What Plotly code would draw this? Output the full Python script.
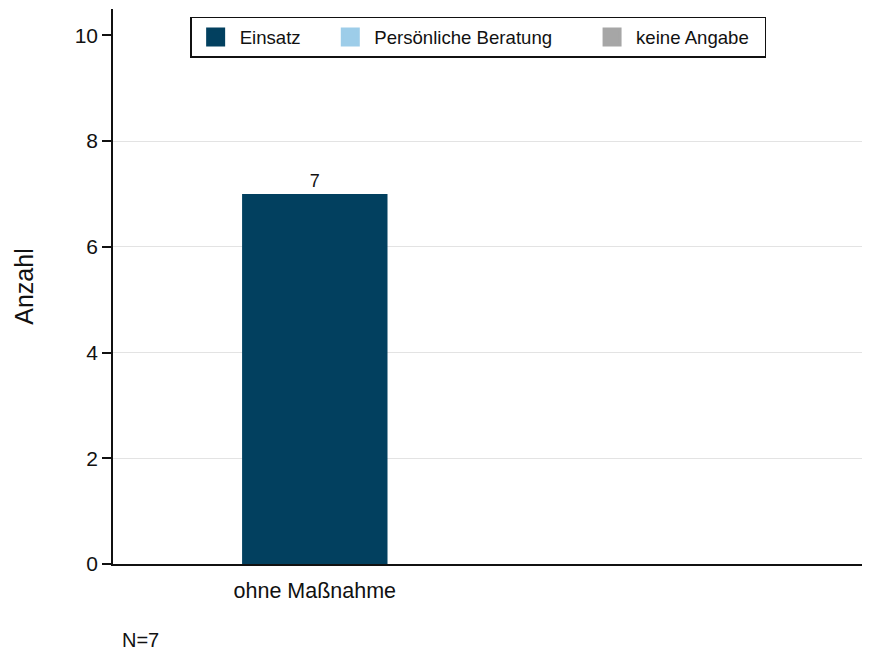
import plotly.graph_objects as go

# ---- data ----
categories = ["ohne Maßnahme"]
series_names = ["Einsatz", "Persönliche Beratung", "keine Angabe"]
series_colors = ["#02405f", "#9dcde9", "#a6a6a6"]
einsatz_values = [7]
beratung_values = [None]
keine_angabe_values = [None]
y_ticks = [0, 2, 4, 6, 8, 10]
grid_ticks = [2, 4, 6, 8]
n_total = 7

FONT = "Liberation Sans, Arial, sans-serif"
NB = "\u00a0"

fig = go.Figure()

series_values = [einsatz_values, beratung_values, keine_angabe_values]
legend_pad = [NB * 4, NB * 6, NB * 2]
for name, color, vals, pad in zip(series_names, series_colors, series_values, legend_pad):
    fig.add_trace(go.Bar(
        x=categories, y=vals, name=name, marker_color=color,
        marker_line_width=0, width=0.8, showlegend=False,
        text=[str(v) if v is not None else "" for v in vals],
        textposition="outside", textfont=dict(size=18, color="#111111", family=FONT),
        cliponaxis=False,
    ))
    # legend proxy (larger square symbol)
    fig.add_trace(go.Scatter(
        x=[None], y=[None], mode="markers", name=name + pad,
        marker=dict(symbol="square", size=16, color=color,
                    line=dict(color=color, width=3)),
        showlegend=True,
    ))

# overlay axis used only to draw grid lines at 2..8
fig.add_trace(go.Scatter(x=[None], y=[None], yaxis="y2", showlegend=False, hoverinfo="skip"))

fig.update_layout(
    width=866, height=645,
    margin=dict(l=105, r=12, t=1, b=89),
    paper_bgcolor="white", plot_bgcolor="white",
    font=dict(family=FONT, color="#111111"),
    barmode="overlay",
    showlegend=True,
    legend=dict(
        orientation="h", x=0.103, y=0.9487, xanchor="left", yanchor="middle",
        bordercolor="#111111", borderwidth=1.5, bgcolor="white",
        font=dict(size=18.6, family=FONT, color="#111111"),
        itemwidth=38,
    ),
    xaxis=dict(
        type="category", range=[-1.11, 3.01],
        showline=True, linecolor="#111111", linewidth=2,
        showgrid=False, zeroline=False,
        ticks="outside", ticklen=6, tickcolor="rgba(0,0,0,0)",
        tickfont=dict(size=21.5, family=FONT, color="#111111"),
    ),
    yaxis=dict(
        range=[0, 10.5], tickvals=y_ticks,
        showline=True, linecolor="#111111", linewidth=1.5,
        showgrid=False, zeroline=False,
        ticks="outside", ticklen=9, tickwidth=1.5, tickcolor="#111111",
        tickfont=dict(size=21, family=FONT, color="#111111"),
        title=dict(text="Anzahl", font=dict(size=25, family=FONT, color="#111111"), standoff=34),
    ),
    yaxis2=dict(
        range=[0, 10.5], overlaying="y", side="left", tickvals=grid_ticks,
        showgrid=True, gridcolor="#e3e3e3", gridwidth=1.2,
        showticklabels=False, ticks="", showline=False, zeroline=False,
        layer="below traces",
    ),
    annotations=[dict(
        text=f"N={n_total}", xref="paper", yref="paper", x=0.009, y=-0.137,
        xanchor="left", yanchor="middle", showarrow=False,
        font=dict(size=20, family=FONT, color="#111111"),
    )],
)

fig.write_html("out.html")
